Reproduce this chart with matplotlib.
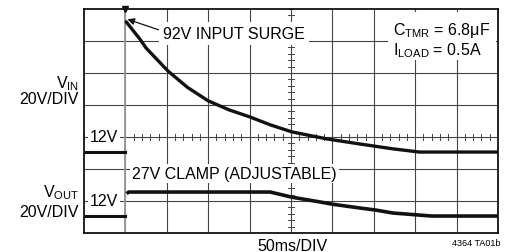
import numpy as np
import matplotlib
matplotlib.use("Agg")
import matplotlib.pyplot as plt
from matplotlib.patches import Rectangle

# scope trace readings (time in divisions, level in volts)
vin_t = [1.0, 1.35, 1.5, 2.03, 2.5, 3.0, 3.5, 4.0, 4.5, 5.02, 5.87, 6.67, 7.46, 8.1, 10.0]
vin_v = [94, 82.6, 77, 62.6, 52.4, 44, 38.4, 34, 29, 24.6, 20.2, 17, 14, 12, 12]
vin_pre_t = [0.0, 1.0]
vin_pre_v = [12, 12]

vout_t = [1.03, 1.08, 4.5, 5.02, 5.7, 6.0, 6.67, 7.03, 7.46, 8.1, 8.4, 10.0]
vout_v = [26, 27, 27, 23.8, 20.8, 19.4, 17, 15.8, 13.9, 12.6, 12, 12]
vout_pre_t = [0.0, 1.0]
vout_pre_v = [12, 12]

VOLTS_PER_DIV = 20
vin_zero = 1.93    # screen position of 0V for each channel (div)
vout_zero = -0.07

plt.rcParams['font.family'] = ['Liberation Sans', 'DejaVu Sans']
plt.rcParams['mathtext.fontset'] = 'custom'
plt.rcParams['mathtext.rm'] = 'Liberation Sans'
plt.rcParams['mathtext.it'] = 'Liberation Sans'

FS = 11.5
fig = plt.figure(figsize=(5.11, 2.53), dpi=100)
ax = fig.add_axes([84 / 511, 19 / 253, 414 / 511, 224 / 253])
ax.set_xlim(0, 10)
ax.set_ylim(0, 7)
ax.set_xticks([])
ax.set_yticks([])
for s in ax.spines.values():
    s.set_linewidth(1.3)
    s.set_color('#111111')

# graticule
for x in range(1, 10):
    ax.axvline(x, color='#444444', lw=0.8, zorder=1)
for y in range(1, 7):
    ax.axhline(y, color='#444444', lw=0.8, zorder=1)
for x in np.arange(0, 10.01, 0.2):
    ax.plot([x, x], [2.91, 3.09], color='#444444', lw=0.7, zorder=1)
for y in np.arange(0, 7.01, 0.2):
    ax.plot([4.93, 5.07], [y, y], color='#444444', lw=0.7, zorder=1)

def to_div(v, zero):
    return zero + np.asarray(v, dtype=float) / VOLTS_PER_DIV

# traces
ax.plot([1.0, 1.0], [0, 7], color='#999999', lw=1.4, zorder=2)
ax.plot(vin_pre_t, to_div(vin_pre_v, vin_zero), color='#111111', lw=2.2, zorder=4)
ax.plot(vin_t, to_div(vin_v, vin_zero), color='#111111', lw=2.4, zorder=4,
        solid_capstyle='butt')
ax.plot(vout_pre_t, to_div(vout_pre_v, vout_zero), color='#111111', lw=2.2, zorder=4)
ax.plot(vout_t, to_div(vout_v, vout_zero), color='#111111', lw=2.6, zorder=4,
        solid_capstyle='butt')
ax.plot([1.0], [7.0], marker='v', ms=4, color='#111111', clip_on=False, zorder=5)

box = dict(fc='white', ec='none', pad=1.5)

# annotations
ax.text(1.91, 6.09, '92V INPUT SURGE', fontsize=FS, ha='left', va='baseline',
        bbox=dict(fc='white', ec='none', pad=3), zorder=3)
ax.annotate('', xy=(1.05, 6.68), xytext=(1.8, 6.35),
            arrowprops=dict(arrowstyle='-|>', color='#111111', lw=0.9,
                            mutation_scale=10, shrinkA=0, shrinkB=0), zorder=5)
ax.add_patch(Rectangle((7.35, 5.4), 2.6, 1.5, fc='white', ec='none', zorder=3))
ax.text(7.46, 6.22, r'C$_{\mathrm{TMR}}$ = 6.8μF', fontsize=FS, ha='left',
        va='baseline', zorder=4)
ax.text(7.46, 5.59, r'I$_{\mathrm{LOAD}}$ = 0.5A', fontsize=FS, ha='left',
        va='baseline', zorder=4)
ax.text(1.16, 1.72, '27V CLAMP (ADJUSTABLE)', fontsize=FS, ha='left', va='baseline',
        bbox=box, zorder=3)
ax.text(0.48, 3.0, '12V', fontsize=FS, ha='center', va='center', bbox=box, zorder=3)
ax.text(0.48, 1.0, '12V', fontsize=FS, ha='center', va='center', bbox=box, zorder=3)

# channel labels
fig.text(79 / 511, 1 - 88 / 253, r'V$_{\mathrm{IN}}$', fontsize=FS, ha='right', va='baseline')
fig.text(79 / 511, 1 - 104 / 253, '20V/DIV', fontsize=FS, ha='right', va='baseline')
fig.text(79 / 511, 1 - 197 / 253, r'V$_{\mathrm{OUT}}$', fontsize=FS, ha='right', va='baseline')
fig.text(79 / 511, 1 - 217 / 253, '20V/DIV', fontsize=FS, ha='right', va='baseline')
fig.text(292 / 511, 2 / 253, '50ms/DIV', fontsize=FS, ha='center', va='baseline')
fig.text(500 / 511, 1 - 246 / 253, '4364 TA01b', fontsize=6.5, ha='right', va='baseline')

fig.savefig('out.png', dpi=100)
